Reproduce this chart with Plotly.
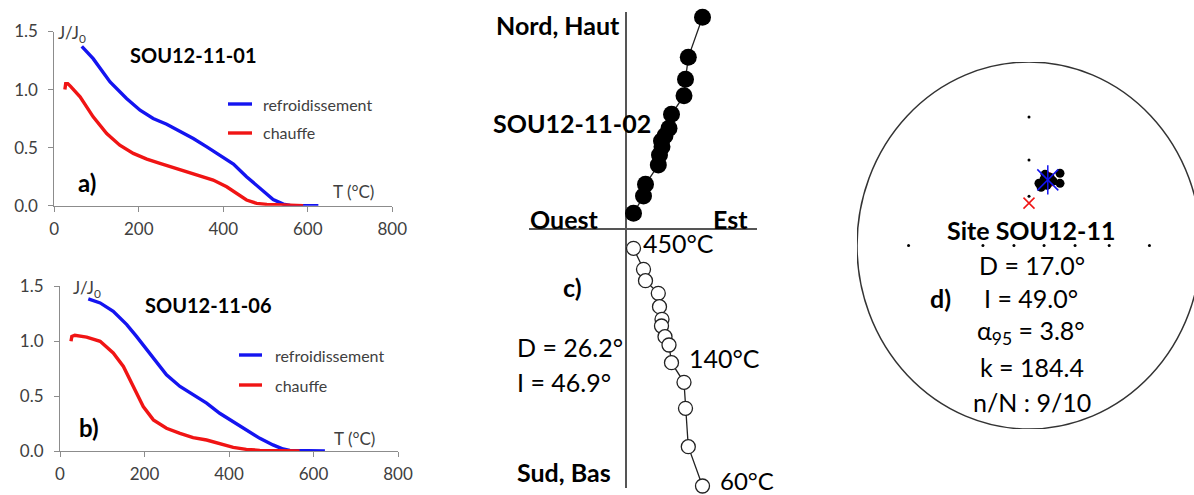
import numpy as np
import plotly.graph_objects as go

W, H = 1194, 495
FONT = "Lato"

# ---------------- Panel a : SOU12-11-01 (J/J0 vs T) ----------------
a_cool_T = [65, 92, 132, 171, 203, 234, 266, 297, 329, 361, 392, 424, 455, 487, 518, 542, 558, 625]
a_cool_J = [1.372, 1.266, 1.066, 0.923, 0.822, 0.751, 0.702, 0.645, 0.579, 0.507, 0.436, 0.358,
            0.249, 0.149, 0.054, 0.014, 0.003, 0.0]
a_heat_T = [25, 27, 32, 38, 61, 92, 124, 155, 187, 219, 250, 282, 313, 345, 376, 408, 432, 455,
            479, 503, 542, 589]
a_heat_J = [1.00, 1.05, 1.05, 1.03, 0.937, 0.765, 0.622, 0.521, 0.45, 0.401, 0.364, 0.327, 0.292,
            0.258, 0.221, 0.163, 0.106, 0.049, 0.020, 0.011, 0.006, 0.0]

# ---------------- Panel b : SOU12-11-06 ----------------
b_cool_T = [67, 95, 126, 158, 181, 205, 229, 252, 284, 315, 347, 378, 410, 441, 473, 504, 528, 544, 627]
b_cool_J = [1.383, 1.346, 1.27, 1.149, 1.042, 0.921, 0.799, 0.693, 0.587, 0.511, 0.435, 0.343,
            0.267, 0.191, 0.115, 0.055, 0.018, 0.006, 0.0]
b_heat_T = [26, 28, 35, 63, 95, 126, 150, 173, 197, 221, 252, 284, 315, 347, 378, 410, 441, 473, 567]
b_heat_J = [0.997, 1.042, 1.052, 1.036, 0.997, 0.891, 0.769, 0.587, 0.404, 0.283, 0.207, 0.161,
            0.122, 0.1, 0.064, 0.033, 0.015, 0.006, 0.0]

T_ticks = [0, 200, 400, 600, 800]
J_ticks = [0.0, 0.5, 1.0, 1.5]
J_ticktext = ["0.0", "0.5", "1.0", "1.5"]

# ---------------- Panel c : Zijderveld SOU12-11-02 (arbitrary units) ----------------
z_east = [0.075, 0.175, 0.195, 0.323, 0.335, 0.36, 0.355, 0.39, 0.43, 0.455, 0.58, 0.595, 0.623, 0.765]
z_north = [0.157, 0.33, 0.447, 0.64, 0.74, 0.823, 0.88, 0.933, 1.007, 1.147, 1.333, 1.497, 1.717, 2.117]
z_up = [-0.193, -0.403, -0.517, -0.643, -0.777, -0.903, -0.97, -1.077, -1.16, -1.337, -1.533,
        -1.793, -2.177, -2.57]
z_labels = {0: "450°C", 9: "140°C", 13: "60°C"}

# ---------------- Panel d : site stereonet (Wulff) ----------------
site_dec = [13.5, 24.6, 28.0, 9.7, 12.5, 13.6, 18.2, 17.7, 21.8]
site_inc = [46.5, 43.2, 48.0, 52.0, 54.0, 49.2, 47.2, 52.0, 48.6]
mean_dec, mean_inc, a95 = 17.0, 49.0, 3.8
ref_dec, ref_inc = 0.0, 64.0
tick_dec = [0, 0, 0, 90, 90, 90, 90, 270, 270, 270]
tick_inc = [20, 40, 60, 20, 40, 60, 80, 20, 60, 80]


def wulff(dec, inc):
    dec = np.radians(np.asarray(dec, float))
    inc = np.asarray(inc, float)
    r = np.tan(np.radians((90.0 - inc) / 2.0))
    return r * np.sin(dec), r * np.cos(dec)


def small_circle(dec, inc, radius, n=90):
    d, i = np.radians(dec), np.radians(inc)
    m = np.array([np.cos(i) * np.cos(d), np.cos(i) * np.sin(d), np.sin(i)])
    u = np.cross(m, [0, 0, 1.0]); u /= np.linalg.norm(u)
    v = np.cross(m, u)
    a = np.radians(radius)
    t = np.linspace(0, 2 * np.pi, n)
    pts = np.cos(a) * m[:, None] + np.sin(a) * (np.outer(u, np.cos(t)) + np.outer(v, np.sin(t)))
    decs = np.degrees(np.arctan2(pts[1], pts[0]))
    incs = np.degrees(np.arcsin(pts[2]))
    return wulff(decs, incs)


def px(x):
    return x / W


def py(y):
    return 1 - y / H


fig = go.Figure()
BLUE = "#1414f0"
RED = "#f01414"

# panels a & b
fig.add_trace(go.Scatter(x=a_cool_T, y=a_cool_J, mode="lines", line=dict(color=BLUE, width=3.4),
                         name="refroidissement", xaxis="x", yaxis="y", showlegend=False))
fig.add_trace(go.Scatter(x=a_heat_T, y=a_heat_J, mode="lines", line=dict(color=RED, width=3.4),
                         name="chauffe", xaxis="x", yaxis="y", showlegend=False))
fig.add_trace(go.Scatter(x=b_cool_T, y=b_cool_J, mode="lines", line=dict(color=BLUE, width=3.4),
                         name="refroidissement", xaxis="x2", yaxis="y2", showlegend=False))
fig.add_trace(go.Scatter(x=b_heat_T, y=b_heat_J, mode="lines", line=dict(color=RED, width=3.4),
                         name="chauffe", xaxis="x2", yaxis="y2", showlegend=False))

# panel c
fig.add_trace(go.Scatter(x=z_east, y=z_north, mode="lines+markers", xaxis="x3", yaxis="y3",
                         line=dict(color="#222", width=1.3),
                         marker=dict(size=17, color="black"), cliponaxis=False, showlegend=False))
fig.add_trace(go.Scatter(x=z_east, y=z_up, mode="lines+markers", xaxis="x3", yaxis="y3",
                         line=dict(color="#222", width=1.3),
                         marker=dict(size=14, color="white", line=dict(color="#222", width=1.3)),
                         cliponaxis=False, showlegend=False))

# panel d
tx, ty = wulff(tick_dec, tick_inc)
fig.add_trace(go.Scatter(x=tx, y=ty, mode="markers", xaxis="x4", yaxis="y4",
                         marker=dict(size=3, color="black"), showlegend=False))
cx, cy = small_circle(mean_dec, mean_inc, a95)
fig.add_trace(go.Scatter(x=cx, y=cy, mode="lines", xaxis="x4", yaxis="y4",
                         line=dict(color=RED, width=2), showlegend=False))
sx, sy = wulff(site_dec, site_inc)
fig.add_trace(go.Scatter(x=sx, y=sy, mode="markers", xaxis="x4", yaxis="y4",
                         marker=dict(size=9, color="black"), showlegend=False))
rx, ry = wulff([ref_dec], [ref_inc])
fig.add_trace(go.Scatter(x=rx, y=ry, mode="markers", xaxis="x4", yaxis="y4",
                         marker=dict(symbol="x-thin-open", size=11, color=RED,
                                     line=dict(color=RED, width=1.5)),
                         showlegend=False))
mx, my = wulff([mean_dec], [mean_inc])
for sym in ["x-thin-open", "line-ns-open"]:
    fig.add_trace(go.Scatter(x=mx, y=my, mode="markers", xaxis="x4", yaxis="y4",
                             marker=dict(symbol=sym, size=21, color=BLUE,
                                         line=dict(color=BLUE, width=1.5)),
                             showlegend=False))

GRAY = "#8c8c8c"
tickfont = dict(family=FONT, size=17, color="#404040")


def tx_axis(dom, anchor):
    return dict(domain=dom, anchor=anchor, range=[0, 800], tickvals=T_ticks, showline=True,
                linecolor=GRAY, linewidth=1, ticks="outside", ticklen=5, tickcolor=GRAY,
                showgrid=False, zeroline=False, tickfont=tickfont, ticklabelstandoff=3,
                automargin=False)


def ty_axis(dom, anchor):
    return dict(domain=dom, anchor=anchor, range=[0, 1.5], tickvals=J_ticks, ticktext=J_ticktext,
                showline=True, linecolor=GRAY, linewidth=1, ticks="outside", ticklen=5,
                tickcolor=GRAY, showgrid=False, zeroline=False, tickfont=tickfont,
                ticklabelstandoff=7, automargin=False)


blank = dict(showgrid=False, showticklabels=False, ticks="", showline=False, automargin=False)

fig.update_layout(
    width=W, height=H, margin=dict(l=0, r=0, t=0, b=0, pad=0, autoexpand=False),
    paper_bgcolor="white", plot_bgcolor="rgba(0,0,0,0)",
    font=dict(family=FONT, color="black"),
    xaxis=tx_axis([px(54.3), px(392.3)], "y"),
    yaxis=ty_axis([py(205.7), py(31.5)], "x"),
    xaxis2=tx_axis([px(60), px(398)], "y2"),
    yaxis2=ty_axis([py(451), py(286)], "x2"),
    xaxis3=dict(domain=[px(529), px(757)], anchor="y3", range=[-0.97, 1.31], zeroline=True,
                zerolinecolor="#555", zerolinewidth=1.6, **blank),
    yaxis3=dict(domain=[py(488), py(12)], anchor="x3", range=[-2.59, 2.17], zeroline=True,
                zerolinecolor="#555", zerolinewidth=1.6, **blank),
    xaxis4=dict(domain=[px(857), 1.0], anchor="y4", range=[-1, (1194 - 1029) / 172.0],
                zeroline=False, **blank),
    yaxis4=dict(domain=[py(429), py(62)], anchor="x4", range=[-1, 1], zeroline=False, **blank),
)

fig.add_shape(type="circle", xref="x4", yref="y4", x0=-1, x1=1, y0=-1, y1=1,
              line=dict(color="#333", width=1.5))

# legend samples (panels a, b)
for (x0, x1, y, c) in [(228, 252, 104, BLUE), (228, 252, 133, RED),
                       (239, 262, 355, BLUE), (239, 262, 385, RED)]:
    fig.add_shape(type="line", xref="paper", yref="paper", x0=px(x0), x1=px(x1), y0=py(y), y1=py(y),
                  line=dict(color=c, width=3.4))


def ann(text, x, y, size, xanchor="left", color="black"):
    fig.add_annotation(text=text, x=px(x), y=py(y), xref="paper", yref="paper", xanchor=xanchor,
                       yanchor="middle", showarrow=False,
                       font=dict(family=FONT, size=size, color=color))


DG = "#404040"
# panel a
ann("J/J<sub>0</sub>", 56, 34, 17, color=DG)
ann("<b>SOU12-11-01</b>", 128, 55, 20)
ann("refroidissement", 261, 104, 16, color=DG)
ann("chauffe", 261, 133, 16, color=DG)
ann("<b>a)</b>", 76, 183, 24)
ann("T (°C)", 331, 191, 17, color=DG)
# panel b
ann("J/J<sub>0</sub>", 71, 289, 17, color=DG)
ann("<b>SOU12-11-06</b>", 143, 305, 20)
ann("refroidissement", 273, 355, 16, color=DG)
ann("chauffe", 273, 385, 16, color=DG)
ann("<b>b)</b>", 77, 427, 24)
ann("T (°C)", 332, 438, 17, color=DG)
# panel c
ann("<b>Nord, Haut</b>", 622, 25, 25, xanchor="right")
ann("<b>SOU12-11-02</b>", 491, 123, 25)
ann("<b>Ouest</b>", 528, 219, 25)
ann("<b>Est</b>", 750, 219, 25, xanchor="right")
ann("<b>c)</b>", 572, 287, 25, xanchor="center")
ann("D = 26.2°", 515, 347, 25)
ann("I = 46.9°", 515, 382, 25)
ann("<b>Sud, Bas</b>", 515, 472, 25)
shifts = {0: (8, 5), 9: (16, 5), 13: (16, 6)}
for i, lab in z_labels.items():
    dx, dy = shifts[i]
    fig.add_annotation(text=lab, x=z_east[i], y=z_up[i], xref="x3", yref="y3", xanchor="left",
                       yanchor="middle", xshift=dx, yshift=dy, showarrow=False, borderpad=0,
                       font=dict(family=FONT, size=24 if i == 13 else 25, color="black"))
# panel d
ann("<b>Site SOU12-11</b>", 1031, 230, 25, xanchor="center")
ann("D = 17.0°", 1032, 265, 25, xanchor="center")
ann("<b>d)</b>", 940, 298, 25, xanchor="center")
ann("I = 49.0°", 1031, 298, 25, xanchor="center")
ann("α<sub>95</sub> = 3.8°", 1031, 332, 25, xanchor="center")
ann("k = 184.4", 1032, 367, 25, xanchor="center")
ann("n/N : 9/10", 1032, 402, 25, xanchor="center")

fig.write_html("out.html", config={"displayModeBar": False},
               post_script="document.body.style.margin='0px';document.body.style.overflow='hidden';")
